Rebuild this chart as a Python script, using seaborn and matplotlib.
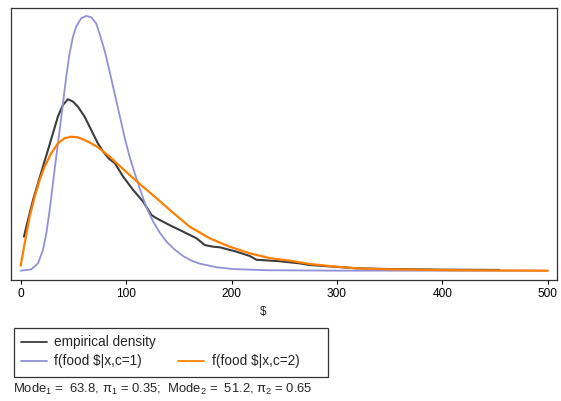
import numpy as np
import pandas as pd
import matplotlib
matplotlib.use("Agg")
import matplotlib.pyplot as plt
from matplotlib.lines import Line2D
from matplotlib.patches import Rectangle
import seaborn as sns

# ── data (density in units of 1e-3) ─────────────────────────────────
emp_x = [3.1, 6.9, 11.7, 16.4, 21.1, 25.9, 30.6, 35.3, 40.1, 44.8, 49.6, 54.3,
         60.6, 66.9, 73.2, 78.3, 83.7, 89.4, 97.2, 106.7, 116.2, 124.1, 128.9,
         141.5, 154.1, 166.8, 174.6, 182.5, 188.9, 204.7, 217.3, 223.6, 245.7,
         264.7, 274.1, 318.4, 349.9, 397.3, 454.2]
emp_y = [2.27, 3.38, 4.71, 5.83, 6.93, 8.05, 9.16, 10.27, 11.05, 11.43, 11.27,
         10.93, 10.27, 9.38, 8.49, 7.93, 7.47, 7.16, 6.27, 5.38, 4.60, 3.71, 3.49,
         3.03, 2.60, 2.16, 1.71, 1.60, 1.56, 1.27, 0.98, 0.73, 0.63, 0.49, 0.38,
         0.16, 0.11, 0.07, 0.05]

c1_x = [0, 10.0, 16.4, 21.1, 24.3, 27.5, 30.6, 33.7, 37.0, 40.1, 43.2, 46.4,
        49.6, 52.7, 57.4, 62.2, 66.9, 71.6, 75.1, 79.9, 84.6, 89.4, 94.1, 98.9,
        103.6, 108.3, 113.0, 119.4, 125.7, 132.0, 138.4, 146.2, 154.1, 162.0,
        169.9, 185.7, 201.2, 233.1, 300.0, 500.0]
c1_y = [0, 0.09, 0.49, 1.38, 2.49, 4.05, 5.83, 7.60, 9.38, 11.16, 12.93, 14.49,
        15.60, 16.27, 16.83, 16.98, 16.89, 16.49, 15.73, 14.60, 13.20, 11.73,
        10.27, 8.80, 7.53, 6.47, 5.47, 4.20, 3.27, 2.53, 1.93, 1.40, 0.97, 0.67,
        0.47, 0.23, 0.11, 0.03, 0.003, 0]

c2_x = [0, 3.8, 8.5, 13.3, 18.0, 22.7, 29.0, 35.3, 41.7, 47.9, 54.3, 60.6,
        66.9, 73.2, 84.6, 94.1, 103.6, 113.0, 128.9, 141.5, 150.9, 160.4, 179.4,
        198.3, 217.3, 236.2, 255.2, 274.1, 293.1, 318.4, 349.9, 413.2, 500.0]
c2_y = [0.33, 1.83, 3.60, 4.93, 6.05, 6.93, 7.83, 8.49, 8.83, 8.93, 8.89, 8.71,
        8.49, 8.23, 7.60, 6.97, 6.37, 5.78, 4.83, 4.05, 3.49, 2.93, 2.16, 1.60,
        1.16, 0.84, 0.67, 0.45, 0.31, 0.16, 0.09, 0.03, 0]

x_ticks = [0, 100, 200, 300, 400, 500]
labels = ["empirical density", "f(food \\$|x,c=1)", "f(food \\$|x,c=2)"]
caption = "Mode$_1$ =  63.8, π$_1$ = 0.35;  Mode$_2$ =  51.2, π$_2$ = 0.65"

C_EMP = "#3c3c3c"
C_1 = "#9290d8"
C_2 = "#ff8000"

sns.set_theme(style="ticks")
plt.rcParams["font.family"] = ["Liberation Sans", "DejaVu Sans"]
plt.rcParams.update({
    "mathtext.fontset": "custom",
    "mathtext.rm": "Liberation Sans",
    "mathtext.it": "Liberation Sans:italic",
    "mathtext.bf": "Liberation Sans:bold",
})

W, H = 561, 401
fig = plt.figure(figsize=(W / 100, H / 100), dpi=100)
fig.patch.set_facecolor("white")
ax = fig.add_axes([11 / W, 1 - 280 / H, 546 / W, 272.3 / H])

emp = pd.DataFrame({"x": emp_x, "y": emp_y})
c1 = pd.DataFrame({"x": c1_x, "y": c1_y})
c2 = pd.DataFrame({"x": c2_x, "y": c2_y})
sns.lineplot(data=emp, x="x", y="y", color=C_EMP, lw=1.5, ax=ax, sort=True)
sns.lineplot(data=c1, x="x", y="y", color=C_1, lw=1.3, ax=ax, sort=True)
sns.lineplot(data=c2, x="x", y="y", color=C_2, lw=1.6, ax=ax, sort=True)

ax.set_xlim(-9.2, 508.8)
ax.set_ylim(-0.62, 17.53)
ax.set_xticks(x_ticks)
ax.set_xticklabels([str(t) for t in x_ticks], fontsize=8.6)
ax.set_yticks([])
ax.set_ylabel("")
ax.set_xlabel("\\$", fontsize=8.6)
ax.xaxis.set_label_coords(0.462, -0.097)
ax.tick_params(axis="x", direction="out", length=3, width=0.8, pad=3, colors="black")
for s in ax.spines.values():
    s.set_visible(True)
    s.set_color("#333333")
    s.set_linewidth(0.9)

# legend box below the plot
fig.add_artist(Rectangle((14 / W, 1 - 376.7 / H), 314.3 / W, 49 / H,
                         transform=fig.transFigure, facecolor="white",
                         edgecolor="#333333", lw=0.9))
rows = [341.7, 361.0, 361.0]
cols = [(20.7, 46.7, 54.3), (20.7, 46.7, 54.3), (178.0, 204.0, 212.3)]
for (x0, x1, xt), yy, col, lab in zip(cols, rows, [C_EMP, C_1, C_2], labels):
    fig.add_artist(Line2D([x0 / W, x1 / W], [1 - yy / H, 1 - yy / H],
                          transform=fig.transFigure, color=col, lw=1.3))
    fig.text(xt / W, 1 - yy / H, lab, fontsize=9.8, va="center", ha="left")

fig.text(12.7 / W, 1 - 389.5 / H, caption, fontsize=9.4, va="center", ha="left")

fig.savefig("out.png", dpi=100)
plt.close("all")
